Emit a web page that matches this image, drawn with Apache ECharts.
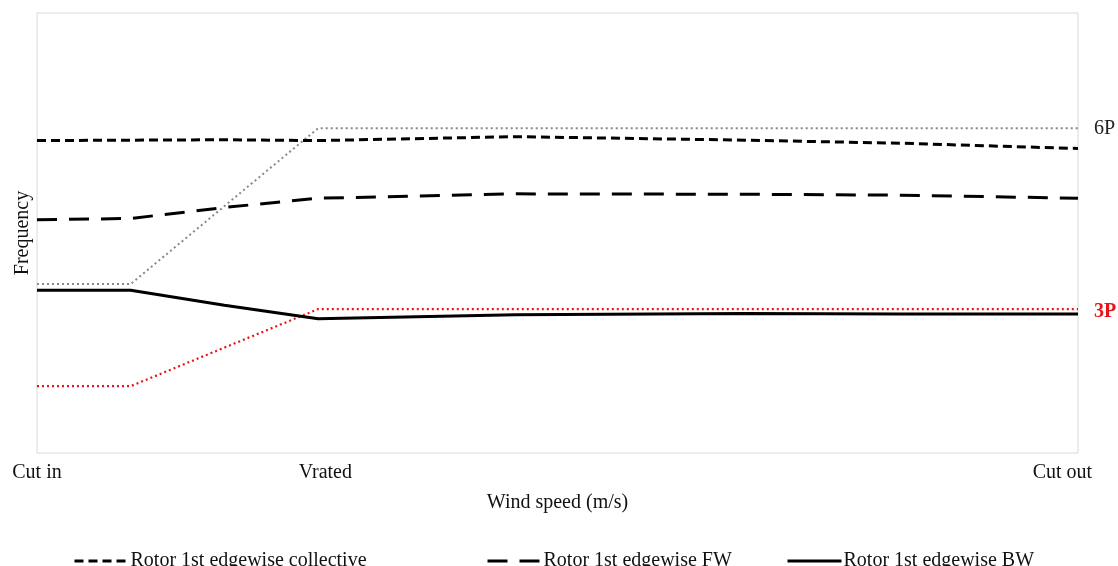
<!DOCTYPE html>
<html>
<head>
<meta charset="utf-8">
<script src="https://cdn.jsdelivr.net/npm/echarts@6/dist/echarts.min.js"></script>
<style>
  html, body { margin: 0; padding: 0; background: #fff; }
  #chart { width: 1118px; height: 566px; }
</style>
</head>
<body>
<div id="chart"></div>
<script>
// wind speed positions (0 = cut in, 100 = cut out)
var windSpeed = [0, 9, 18, 27, 46, 68, 83, 100];
// frequency (arbitrary units, 0..100)
var collective = [71.0, 71.1, 71.2, 71.0, 71.9, 71.1, 70.4, 69.2];
var edgeFW = [53.0, 53.3, 55.8, 57.9, 58.9, 58.8, 58.6, 57.9];
var edgeBW = [37.0, 37.0, 33.6, 30.5, 31.4, 31.7, 31.6, 31.6];
// rotor harmonics: constant speed below ramp, rated speed above
var harmonicX = [0, 9, 27, 100];
var p3 = [15.2, 15.2, 32.7, 32.7];
var p6 = [38.4, 38.4, 73.8, 73.8];
// tick labels on the wind speed axis
var xLabels = ["Cut in", "Vrated", "Cut out"];
var xLabelPos = [0, 27.7, 98.5];

var serif = "Liberation Serif";

function pairs(xs, ys) {
  return xs.map(function (x, i) { return [x, ys[i]]; });
}

var chart = echarts.init(document.getElementById("chart"));

var legendBase = {
  top: 546,
  itemWidth: 54,
  itemHeight: 14,
  itemGap: 0,
  itemStyle: { opacity: 0 },
  lineStyle: { width: 3 },
  textStyle: { fontFamily: serif, fontSize: 20, color: "#111", padding: [0, 0, 0, -3] },
};

var option = {
  animation: false,
  grid: {
    left: 37,
    right: 40,
    top: 13,
    bottom: 113,
    outerBoundsMode: "none",
    containLabel: false,
    show: true,
    borderColor: "#d9d9d9",
    borderWidth: 1,
  },
  xAxis: {
    type: "value",
    min: 0,
    max: 100,
    name: "Wind speed (m/s)",
    nameLocation: "middle",
    nameGap: 40,
    nameTextStyle: { fontFamily: serif, fontSize: 20, color: "#111" },
    axisLine: { show: false },
    axisTick: { show: false },
    splitLine: { show: false },
    axisLabel: {
      customValues: xLabelPos,
      margin: 10,
      fontFamily: serif,
      fontSize: 20,
      color: "#111",
      formatter: function (v) {
        var i = xLabelPos.indexOf(v);
        return i >= 0 ? xLabels[i] : "";
      },
    },
  },
  yAxis: {
    type: "value",
    min: 0,
    max: 100,
    name: "Frequency",
    nameLocation: "middle",
    nameGap: 4,
    nameTextStyle: { fontFamily: serif, fontSize: 20, color: "#111" },
    axisLine: { show: false },
    axisTick: { show: false },
    axisLabel: { show: false },
    splitLine: { show: false },
  },
  legend: [
    Object.assign({ left: 68, data: ["Rotor 1st edgewise collective"] }, legendBase),
    Object.assign({ left: 481, data: ["Rotor 1st edgewise FW"] }, legendBase),
    Object.assign({ left: 781, data: ["Rotor 1st edgewise BW"] }, legendBase),
  ],
  series: [
    {
      name: "6P",
      type: "line",
      data: pairs(harmonicX, p6),
      symbol: "none",
      lineStyle: { color: "#888", width: 2, type: [2, 3] },
      itemStyle: { color: "#888" },
      endLabel: {
        show: true,
        formatter: "6P",
        distance: 16,
        fontFamily: serif,
        fontSize: 20,
        color: "#222",
      },
      z: 1,
    },
    {
      name: "3P",
      type: "line",
      data: pairs(harmonicX, p3),
      symbol: "none",
      lineStyle: { color: "#e8141a", width: 2.2, type: [2, 3] },
      itemStyle: { color: "#e8141a" },
      endLabel: {
        show: true,
        formatter: "3P",
        distance: 16,
        offset: [0, 3],
        fontFamily: serif,
        fontSize: 20,
        fontWeight: "bold",
        color: "#e8141a",
      },
      z: 1,
    },
    {
      name: "Rotor 1st edgewise collective",
      type: "line",
      data: pairs(windSpeed, collective),
      symbol: "none",
      lineStyle: { color: "#000", width: 3, type: [9, 5] },
      itemStyle: { color: "#000" },
      z: 2,
    },
    {
      name: "Rotor 1st edgewise FW",
      type: "line",
      data: pairs(windSpeed, edgeFW),
      symbol: "none",
      lineStyle: { color: "#000", width: 3, type: [20, 12] },
      itemStyle: { color: "#000" },
      z: 2,
    },
    {
      name: "Rotor 1st edgewise BW",
      type: "line",
      data: pairs(windSpeed, edgeBW),
      symbol: "none",
      lineStyle: { color: "#000", width: 3 },
      itemStyle: { color: "#000" },
      z: 2,
    },
  ],
};

chart.setOption(option);
</script>
</body>
</html>
